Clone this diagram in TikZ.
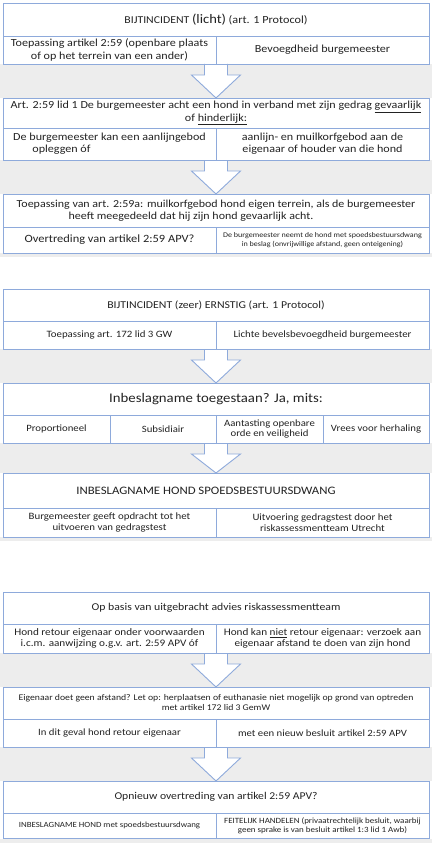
\documentclass[tikz,border=0pt]{standalone}
\usepackage{fontspec}
\setmainfont{Carlito}[FakeStretch=1.12]
\usetikzlibrary{calc}
\definecolor{bordc}{HTML}{8EAADB}
\definecolor{bandc}{HTML}{EDEDED}
\definecolor{txtc}{HTML}{222222}
\pgfdeclarelayer{bg}
\pgfsetlayers{bg,main}
\tikzset{
  cellbox/.style={draw=bordc, line width=0.9pt, inner sep=0pt, outer sep=0pt, align=center, text=txtc},
  blockarrow/.style={draw=bordc, fill=white, line width=0.9pt, line join=miter},
  band/.style={fill=bandc}
}
\newcommand\cellbox[8]{\node[cellbox, minimum width={(#4)-(#2)}, minimum height={(#5)-(#3)}, font=\fontsize{#6}{#7}\selectfont] (#1) at ({((#2)+(#4))/2},{((#3)+(#5))/2}) {#8};}
\newcommand\blockarrow[2]{\filldraw[blockarrow] let \p1=(#1), \p2=(#2) in (\x2-11.5pt,\y1) -- (\x2-11.5pt,\y1-11pt) -- (\x2-24.5pt,\y1-11pt) -- (\x2,\y2) -- (\x2+24.5pt,\y1-11pt) -- (\x2+11.5pt,\y1-11pt) -- (\x2+11.5pt,\y1);}
\newcommand\fs[2]{\fontsize{#1}{#2}\selectfont}
\begin{document}
\begin{tikzpicture}[x=1pt,y=-1pt]
\useasboundingbox (0,0) rectangle (432,843);
% section 1
\cellbox{a1}{3}{3}{429}{36}{10.5}{12}{BIJTINCIDENT {\fs{13}{14}(licht)} {\fs{10.9}{12}(art. 1 Protocol)}}
\cellbox{a2l}{3}{36}{216}{64}{10.8}{13.3}{Toepassing artikel 2:59 (openbare plaats\\of op het terrein van een ander)}
\cellbox{a2r}{216}{36}{429}{64}{10.8}{13.3}{Bevoegdheid burgemeester}
\cellbox{b1}{3}{98}{429}{128}{10.8}{10.8}{Art. 2:59 lid 1 De burgemeester acht een hond in verband met zijn gedrag \underline{gevaarlijk}\\of \underline{hinderlijk:}}
\cellbox{b2l}{3}{128}{216}{160}{10.8}{11.7}{De burgemeester kan een aanlijngebod\\opleggen óf\hspace*{96pt}}
\cellbox{b2r}{216}{128}{429}{160}{10.8}{11.7}{aanlijn- en muilkorfgebod aan de\\eigenaar of houder van die hond}
\cellbox{c1}{3}{194}{429}{227}{10.7}{11.7}{Toepassing van art. 2:59a: muilkorfgebod hond eigen terrein, als de burgemeester\\heeft meegedeeld dat hij zijn hond gevaarlijk acht.\hspace*{50pt}}
\cellbox{c2l}{3}{227}{216}{253}{11.1}{12}{Overtreding van artikel 2:59 APV?}
\cellbox{c2r}{216}{227}{429}{253}{7.2}{9}{De burgemeester neemt de hond met spoedsbestuursdwang\\in beslag (onvrijwillige afstand, geen onteigening)}
% section 2
\cellbox{d1}{3}{289}{429}{321}{10.5}{12}{BIJTINCIDENT (zeer) ERNSTIG (art. 1 Protocol)}
\cellbox{d2l}{3}{321}{216}{349}{9.7}{11}{Toepassing art. 172 lid 3 GW}
\cellbox{d2r}{216}{321}{429}{349}{9.7}{11}{Lichte bevelsbevoegdheid burgemeester}
\cellbox{e1}{3}{383}{429}{415}{13.2}{15}{Inbeslagname toegestaan? Ja, mits:}
\cellbox{e2a}{3}{415}{110}{443}{9.6}{10}{Proportioneel}
\cellbox{e2b}{110}{415}{216}{443}{9.6}{10}{Subsidiair}
\cellbox{e2c}{216}{415}{323}{443}{9.6}{10}{Aantasting openbare\\orde en veiligheid}
\cellbox{e2d}{323}{415}{429}{443}{9.6}{10}{Vrees voor herhaling}
\cellbox{f1}{3}{473}{429}{508}{11.4}{13}{INBESLAGNAME HOND SPOEDSBESTUURSDWANG\hspace*{20pt}}
\cellbox{f2l}{3}{508}{216}{537}{9.7}{11}{Burgemeester geeft opdracht tot het\\uitvoeren van gedragstest}
\cellbox{f2r}{216}{508}{429}{537}{9.7}{11}{Uitvoering gedragstest door het\\riskassessmentteam Utrecht}
% section 3
\cellbox{g1}{3}{592}{429}{624}{10.5}{12}{Op basis van uitgebracht advies riskassessmentteam}
\cellbox{g2l}{3}{624}{216}{653}{10}{11.7}{Hond retour eigenaar onder voorwaarden\\i.c.m. aanwijzing o.g.v. art. 2:59 APV óf}
\cellbox{g2r}{216}{624}{429}{653}{10}{11.7}{Hond kan \underline{niet} retour eigenaar: verzoek aan\\eigenaar afstand te doen van zijn hond}
\cellbox{h1}{3}{687}{429}{719}{8.7}{10}{Eigenaar doet geen afstand? Let op: herplaatsen of euthanasie niet mogelijk op grond van optreden\\met artikel 172 lid 3 GemW}
\cellbox{h2l}{3}{719}{216}{747}{9.6}{11}{In dit geval hond retour eigenaar}
\cellbox{h2r}{216}{719}{429}{747}{9.6}{11}{met een nieuw besluit artikel 2:59 APV}
\cellbox{i1}{3}{781}{429}{813}{10.4}{12}{Opnieuw overtreding van artikel 2:59 APV?}
\cellbox{i2l}{3}{813}{216}{838.5}{7.9}{9}{INBESLAGNAME HOND met spoedsbestuursdwang}
\cellbox{i2r}{216}{813}{429}{838.5}{8}{9.5}{FEITELIJK HANDELEN (privaatrechtelijk besluit, waarbij\\geen sprake is van besluit artikel 1:3 lid 1 Awb)}
\begin{pgfonlayer}{bg}
\fill[band] (0,64) rectangle (432,98);
\fill[band] (0,160) rectangle (432,194);
\fill[band] (0,253) rectangle (432,256.5);
\fill[band] (0,349) rectangle (432,383);
\fill[band] (0,443) rectangle (432,473);
\fill[band] (0,537) rectangle (432,541);
\fill[band] (0,653) rectangle (432,687);
\fill[band] (0,747) rectangle (432,781);
\fill[band] (0,838.5) rectangle (432,843);
\blockarrow{a2l.south east}{b1.north}
\blockarrow{b2l.south east}{c1.north}
\blockarrow{d2l.south east}{e1.north}
\blockarrow{e2b.south east}{f1.north}
\blockarrow{g2l.south east}{h1.north}
\blockarrow{h2l.south east}{i1.north}
\end{pgfonlayer}
\end{tikzpicture}
\end{document}
